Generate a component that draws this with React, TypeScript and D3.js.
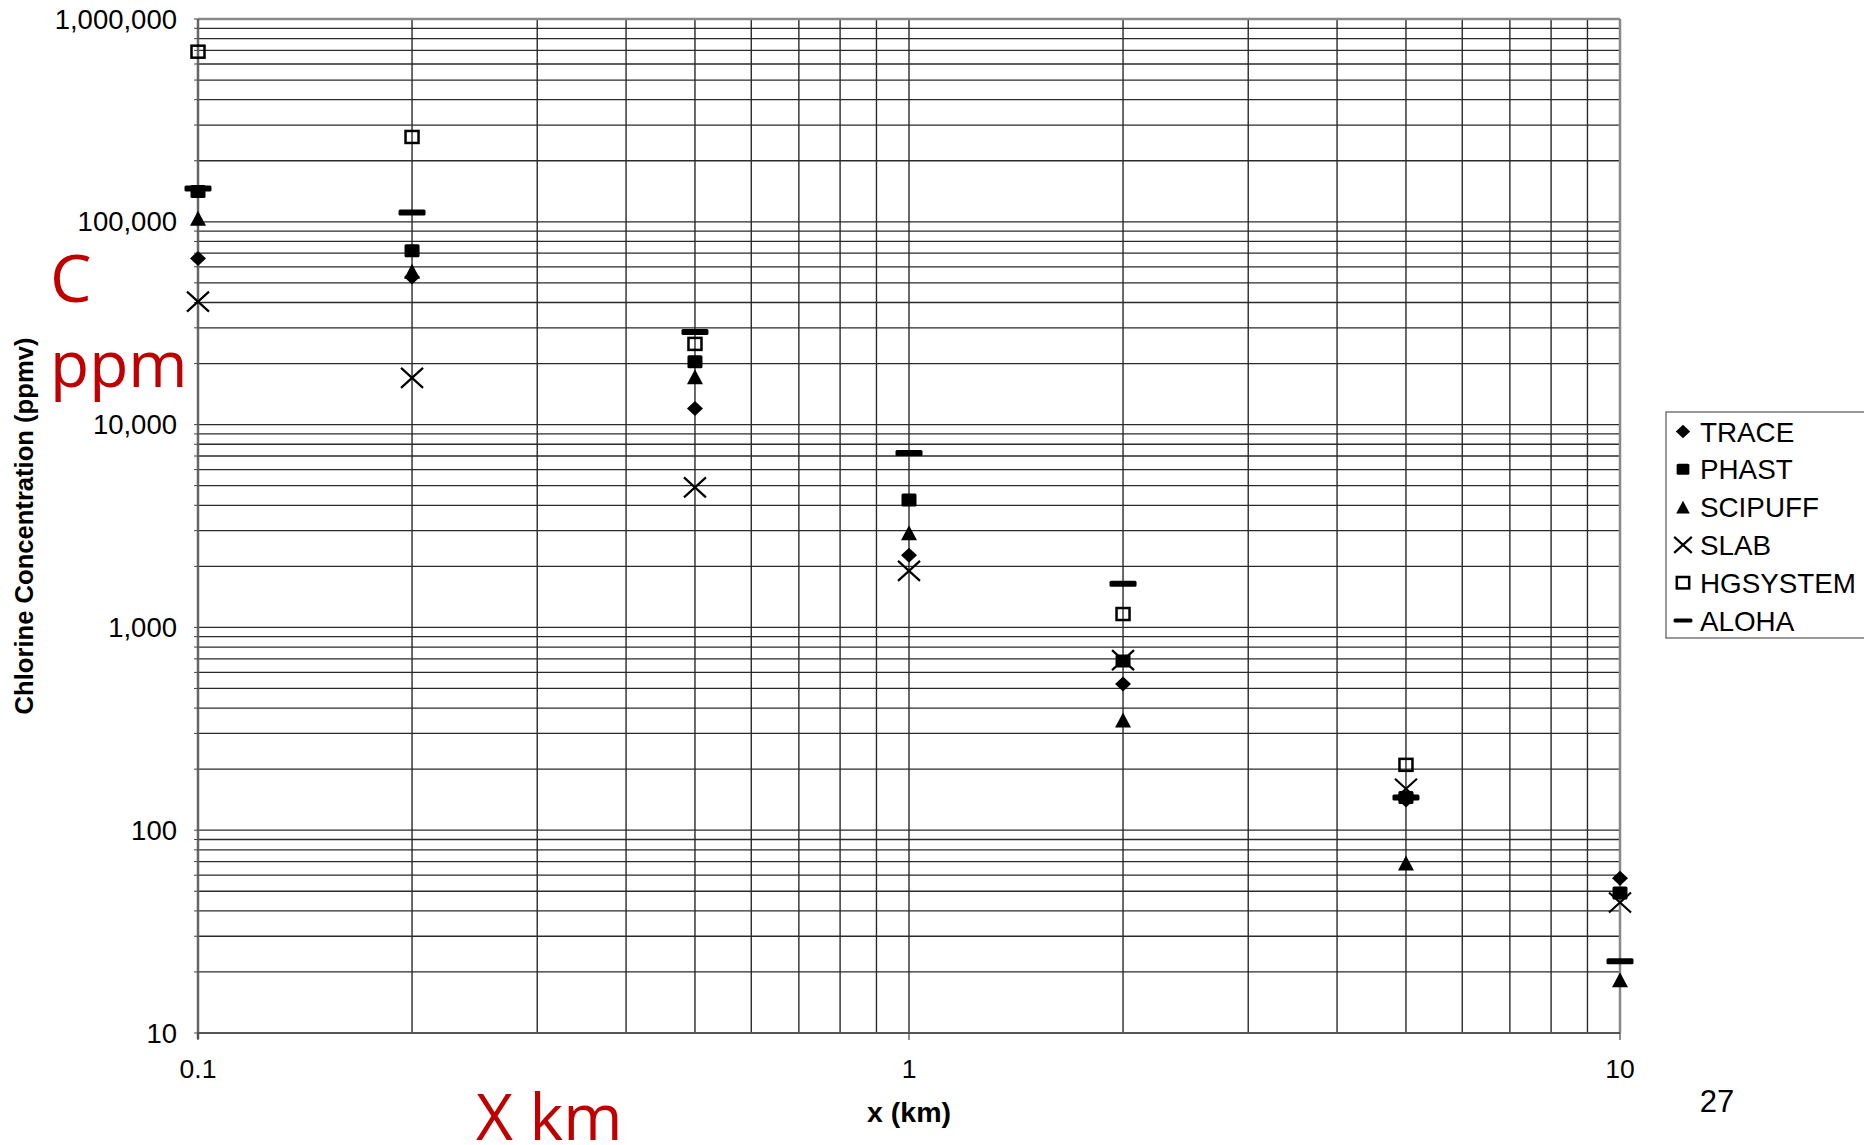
import React from 'react';
import * as d3 from 'd3';

// distances (km) and concentrations (ppmv)
const distances = [0.1, 0.2, 0.5, 1, 2, 5, 10];
const trace = [66000, 53500, 12000, 2270, 526, 141, 58];
const phast = [141000, 72000, 20400, 4250, 683, 145, 49];
const scipuff = [104000, 57000, 17200, 2930, 349, 69, 18.3];
const slab = [40400, 17000, 4900, 1900, 690, 160, 44];
const hgsystem = [690000, 262000, 25000, null, 1164, 210, null];
const aloha = [146000, 111000, 28600, 7240, 1643, 145, 22.6];

const seriesNames = ['TRACE', 'PHAST', 'SCIPUFF', 'SLAB', 'HGSYSTEM', 'ALOHA'];
const seriesValues = [trace, phast, scipuff, slab, hgsystem, aloha];
const xTickLabels = ['0.1', '1', '10'];

const W = 1864;
const H = 1145;
const plot = { left: 198, right: 1620, top: 19, bottom: 1033 };
const font = '"Liberation Sans", Arial, sans-serif';
const red = '#c00000';
const legendScale: Record<string, number> = {
  TRACE: 0.9,
  PHAST: 0.85,
  SCIPUFF: 0.85,
  SLAB: 0.8,
  HGSYSTEM: 0.95,
  ALOHA: 0.7,
};

const Marker = ({ type, s = 1 }: { type: string; s?: number }) => {
  switch (type) {
    case 'TRACE':
      return <path d={`M0,${-7.5 * s} L${8 * s},0 L0,${7.5 * s} L${-8 * s},0Z`} fill="#000" />;
    case 'PHAST':
      return <rect x={-7.5 * s} y={-6.5 * s} width={15 * s} height={13 * s} rx={1.5} fill="#000" />;
    case 'SCIPUFF':
      return <path d={`M0,${-7.5 * s} L${8 * s},${7.5 * s} L${-8 * s},${7.5 * s}Z`} fill="#000" />;
    case 'SLAB':
      return (
        <path
          d={`M${-11 * s},${-10 * s} L${11 * s},${10 * s} M${-11 * s},${10 * s} L${11 * s},${-10 * s}`}
          stroke="#000"
          strokeWidth={2.2}
          fill="none"
        />
      );
    case 'HGSYSTEM':
      return (
        <rect x={-6.5 * s} y={-6 * s} width={13 * s} height={12 * s} fill="none" stroke="#000" strokeWidth={2.5} />
      );
    default:
      return <rect x={-13.5 * s} y={-3 * s} width={27 * s} height={6 * s} rx={1.5} fill="#000" />;
  }
};

export default function App() {
  const x = d3.scaleLog().domain([0.1, 10]).range([plot.left, plot.right]);
  const y = d3.scaleLog().domain([10, 1e6]).range([plot.bottom, plot.top]);

  const xGrid = x.ticks();
  const yGrid = y.ticks();
  const yMajor = yGrid.filter((v) => Math.abs(Math.log10(v) % 1) < 1e-9);
  const xMajor = [0.1, 1, 10];
  const fmt = d3.format(',');

  return (
    <svg width={W} height={H} style={{ position: 'absolute', left: 0, top: 0, background: '#fff' }}>
      {/* grid */}
      {yGrid.map((v, i) => (
        <line key={'gy' + i} x1={plot.left} x2={plot.right} y1={y(v)} y2={y(v)} stroke="#2a2a2a" strokeWidth={1.3} />
      ))}
      {xGrid.map((v, i) => (
        <line key={'gx' + i} x1={x(v)} x2={x(v)} y1={plot.top} y2={plot.bottom} stroke="#2a2a2a" strokeWidth={1.4} />
      ))}

      {/* frame */}
      <line x1={plot.left} x2={plot.right} y1={plot.top} y2={plot.top} stroke="#888" strokeWidth={2.5} />
      <line x1={plot.right} x2={plot.right} y1={plot.top} y2={plot.bottom} stroke="#888" strokeWidth={2.5} />
      <line x1={plot.left} x2={plot.left} y1={plot.top} y2={plot.bottom + 6} stroke="#666" strokeWidth={2.5} />
      <line x1={plot.left - 1} x2={plot.right} y1={plot.bottom} y2={plot.bottom} stroke="#555" strokeWidth={2.2} />

      {/* axis ticks */}
      {yGrid.map((v, i) => (
        <line key={'ty' + i} x1={plot.left - 4} x2={plot.left} y1={y(v)} y2={y(v)} stroke="#444" strokeWidth={1} />
      ))}
      {xMajor.map((v, i) => (
        <line key={'tx' + i} x1={x(v)} x2={x(v)} y1={plot.bottom} y2={plot.bottom + 7} stroke="#444" strokeWidth={1.2} />
      ))}

      {/* tick labels */}
      {yMajor.map((v, i) => (
        <text
          key={'ly' + i}
          x={177}
          y={y(v)}
          dy="0.35em"
          textAnchor="end"
          fontFamily={font}
          fontSize={27.5}
          fill="#000"
        >
          {fmt(v)}
        </text>
      ))}
      {xMajor.map((v, i) => (
        <text key={'lx' + i} x={x(v)} y={1078} textAnchor="middle" fontFamily={font} fontSize={26.5} fill="#000">
          {xTickLabels[i]}
        </text>
      ))}

      {/* axis titles */}
      <text
        transform={`translate(33,526) rotate(-90)`}
        textAnchor="middle"
        fontFamily={font}
        fontSize={25.6}
        fontWeight="bold"
        fill="#000"
      >
        Chlorine Concentration (ppmv)
      </text>
      <text x={909} y={1122} textAnchor="middle" fontFamily={font} fontSize={28.5} fontWeight="bold" fill="#000">
        x (km)
      </text>

      {/* points */}
      {seriesValues.map((vals, si) =>
        vals.map((v, i) =>
          v == null ? null : (
            <g key={`p${si}-${i}`} transform={`translate(${x(distances[i])},${y(v)})`}>
              <Marker type={seriesNames[si]} />
            </g>
          )
        )
      )}

      {/* legend */}
      <rect x={1666} y={412} width={200} height={226} fill="#fff" stroke="#555" strokeWidth={1.2} />
      {seriesNames.map((name, i) => {
        const cy = 431.5 + i * 37.8;
        return (
          <g key={'lg' + name}>
            <g transform={`translate(1683,${cy})`}>
              <Marker type={name} s={legendScale[name]} />
            </g>
            <text x={1700} y={cy} dy="0.36em" fontFamily={font} fontSize={27.8} fill="#000">
              {name}
            </text>
          </g>
        );
      })}

      {/* slide annotations */}
      <text x={50} y={302} fontFamily='"Open Sans", "Noto Sans", sans-serif' fontSize={66} fill={red}>
        C
      </text>
      <text x={50} y={387} fontFamily='"Open Sans", "Noto Sans", sans-serif' fontSize={64} fill={red}>
        ppm
      </text>
      <text x={476} y={1140} fontFamily='"Open Sans", "Noto Sans", sans-serif' fontSize={64} fill={red}>
        X km
      </text>
      <text x={1717} y={1112} textAnchor="middle" fontFamily={font} fontSize={31} fill="#000">
        27
      </text>
    </svg>
  );
}
